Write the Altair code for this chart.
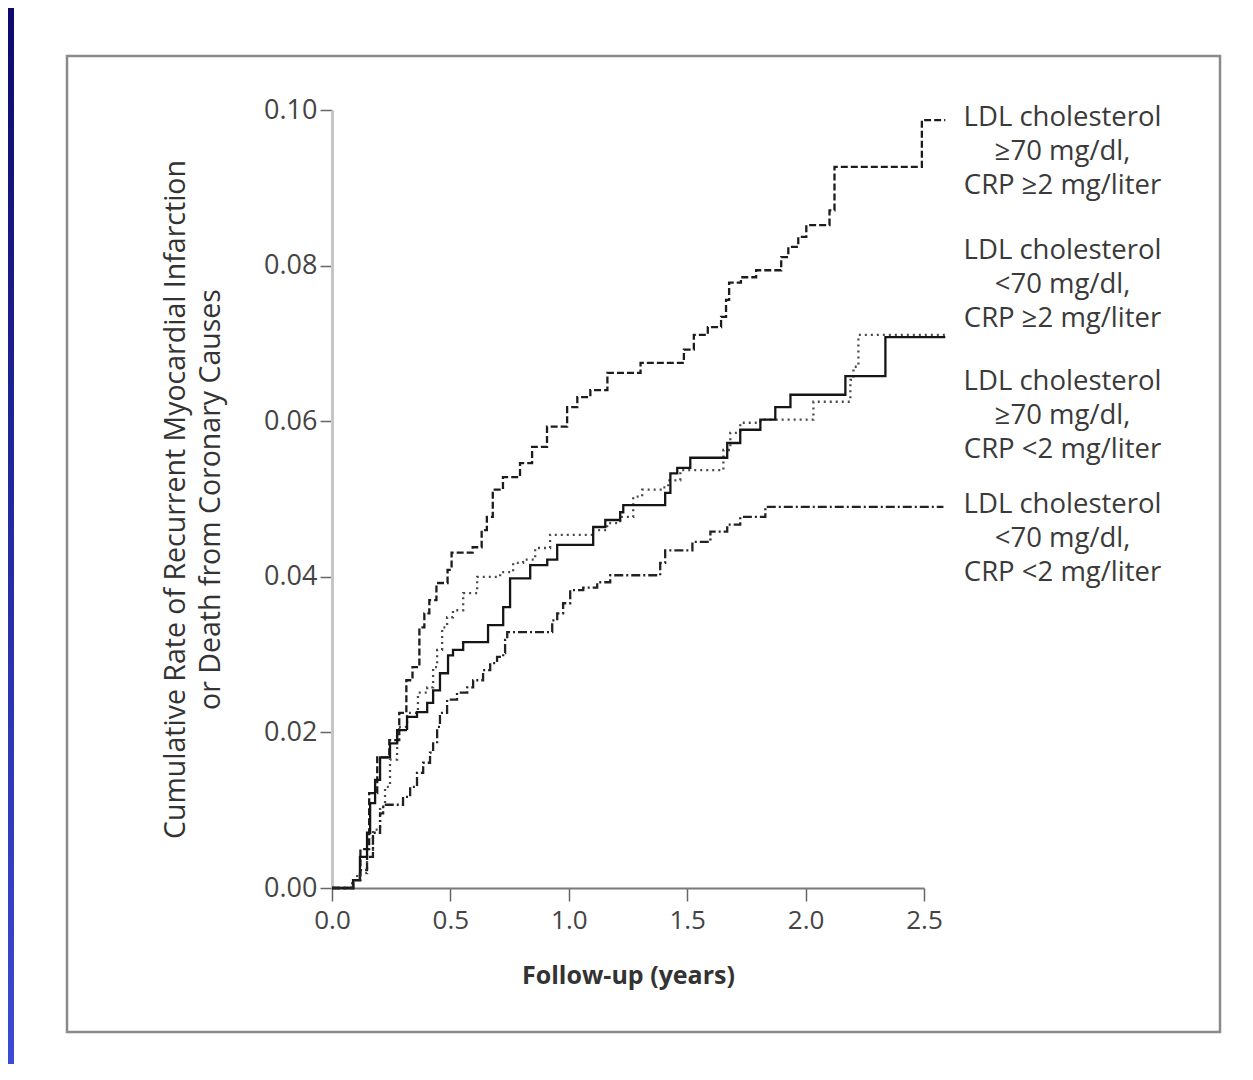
import altair as alt
import pandas as pd

# ---------------- data ----------------
series_names = ["LDL>=70, CRP>=2", "LDL<70, CRP>=2", "LDL>=70, CRP<2", "LDL<70, CRP<2"]

# dashed: LDL >=70 mg/dl, CRP >=2 mg/liter
a_t = [0, 0.09, 0.12, 0.157, 0.191, 0.242, 0.284, 0.314, 0.340, 0.369, 0.390, 0.411, 0.441,
       0.488, 0.505, 0.594, 0.632, 0.654, 0.679, 0.722, 0.794, 0.845, 0.908, 0.993, 1.036,
       1.091, 1.163, 1.303, 1.486, 1.528, 1.587, 1.643, 1.664, 1.677, 1.727, 1.791, 1.897,
       1.927, 1.969, 2.003, 2.101, 2.122, 2.491, 2.59]
a_v = [0, 0.001, 0.005, 0.0122, 0.0168, 0.019, 0.0225, 0.0267, 0.0284, 0.0335, 0.0353, 0.037,
       0.0392, 0.0409, 0.0431, 0.0438, 0.046, 0.0477, 0.0512, 0.0528, 0.0546, 0.0567, 0.0593,
       0.0618, 0.0631, 0.064, 0.0662, 0.0675, 0.0692, 0.0711, 0.0721, 0.0734, 0.0756, 0.0778,
       0.0785, 0.0794, 0.0811, 0.0824, 0.0837, 0.0852, 0.0871, 0.0927, 0.0987, 0.0987]

# dotted: LDL <70 mg/dl, CRP >=2 mg/liter
b_t = [0, 0.085, 0.106, 0.148, 0.173, 0.203, 0.224, 0.245, 0.275, 0.317, 0.363, 0.402, 0.427,
       0.444, 0.465, 0.486, 0.511, 0.554, 0.613, 0.710, 0.765, 0.807, 0.858, 0.921, 1.103,
       1.162, 1.217, 1.272, 1.310, 1.399, 1.420, 1.471, 1.653, 1.682, 1.724, 1.809, 2.033,
       2.189, 2.202, 2.223, 2.59]
b_v = [0, 0.001, 0.0019, 0.0049, 0.0075, 0.0105, 0.0130, 0.0165, 0.0207, 0.0225, 0.0251,
       0.0258, 0.0284, 0.0306, 0.0335, 0.0348, 0.0357, 0.0379, 0.0400, 0.0406, 0.0418, 0.0422,
       0.0437, 0.0454, 0.0460, 0.0469, 0.0477, 0.0503, 0.0512, 0.0515, 0.0524, 0.0537, 0.0563,
       0.0585, 0.0598, 0.0602, 0.0625, 0.0653, 0.0670, 0.0711, 0.0711]

# solid: LDL >=70 mg/dl, CRP <2 mg/liter
c_t = [0, 0.089, 0.118, 0.148, 0.161, 0.182, 0.203, 0.245, 0.275, 0.317, 0.359, 0.402, 0.427,
       0.456, 0.490, 0.511, 0.554, 0.659, 0.723, 0.752, 0.837, 0.909, 0.951, 1.103, 1.154,
       1.217, 1.230, 1.407, 1.429, 1.458, 1.513, 1.669, 1.724, 1.809, 1.872, 1.936, 2.168,
       2.337, 2.59]
c_v = [0, 0.001, 0.004, 0.0071, 0.0109, 0.0139, 0.0168, 0.0186, 0.0203, 0.0220, 0.0226,
       0.0238, 0.0254, 0.0276, 0.0299, 0.0306, 0.0316, 0.0338, 0.0361, 0.0398, 0.0415, 0.0422,
       0.0441, 0.0464, 0.0473, 0.0483, 0.0492, 0.0508, 0.0533, 0.0540, 0.0553, 0.0572, 0.0589,
       0.0602, 0.0618, 0.0634, 0.0658, 0.0708, 0.0708]

# dash-dot: LDL <70 mg/dl, CRP <2 mg/liter
d_t = [0, 0.089, 0.118, 0.148, 0.173, 0.203, 0.216, 0.300, 0.330, 0.359, 0.385, 0.414, 0.427,
       0.444, 0.456, 0.486, 0.528, 0.571, 0.596, 0.638, 0.668, 0.697, 0.723, 0.731, 0.740,
       0.930, 0.951, 0.976, 1.006, 1.061, 1.120, 1.175, 1.386, 1.407, 1.522, 1.598, 1.669,
       1.724, 1.830, 2.582]
d_v = [0, 0.001, 0.0023, 0.004, 0.0071, 0.0096, 0.0107, 0.0117, 0.013, 0.0148, 0.0161, 0.0174,
       0.0186, 0.0207, 0.0225, 0.0242, 0.0251, 0.0258, 0.0267, 0.028, 0.0289, 0.0297, 0.0302,
       0.0319, 0.0329, 0.0344, 0.0353, 0.0366, 0.0383, 0.0386, 0.0393, 0.0402, 0.0418, 0.0434,
       0.0445, 0.0458, 0.0467, 0.0477, 0.049, 0.049]

label_texts = [
    "LDL cholesterol\n\u226570 mg/dl,\nCRP \u22652 mg/liter",
    "LDL cholesterol\n<70 mg/dl,\nCRP \u22652 mg/liter",
    "LDL cholesterol\n\u226570 mg/dl,\nCRP <2 mg/liter",
    "LDL cholesterol\n<70 mg/dl,\nCRP <2 mg/liter",
]
label_t = [3.085, 3.085, 3.085, 3.085]
label_v = [0.0990, 0.0819, 0.0650, 0.0492]

x_ticks = [0.0, 0.5, 1.0, 1.5, 2.0, 2.5]
y_ticks = [0.00, 0.02, 0.04, 0.06, 0.08, 0.10]

# ---------------- build ----------------
rows = []
for name, ts, vs in zip(series_names, [a_t, b_t, c_t, d_t], [a_v, b_v, c_v, d_v]):
    for t, v in zip(ts, vs):
        rows.append({"series": name, "t": t, "v": v})
df = pd.DataFrame(rows)
lab_df = pd.DataFrame({"t": label_t, "v": label_v, "text": label_texts})
deco = pd.DataFrame({"k": [0]})

FONT = "Open Sans"

x_enc = alt.X(
    "t:Q",
    scale=alt.Scale(domain=[0, 2.5], nice=False, zero=False),
    axis=alt.Axis(
        values=x_ticks, format=".1f", title="Follow-up (years)", grid=False, labelFlush=False,
        domainColor="#7a7a7a", domainWidth=2, tickColor="#666666", tickWidth=1.5, tickSize=13,
        labelFont=FONT, labelFontSize=26, labelColor="#444444", labelPadding=6,
        titleFont=FONT, titleFontSize=25, titleFontWeight="bold", titleColor="#333333",
        titlePadding=30,
    ),
)
y_enc = alt.Y(
    "v:Q",
    scale=alt.Scale(domain=[0, 0.1], nice=False),
    axis=alt.Axis(
        values=y_ticks, format=".2f", grid=False, labelFlush=False,
        title=["Cumulative Rate of Recurrent Myocardial Infarction", "or Death from Coronary Causes"],
        domainColor="#c6c6c6", domainWidth=3, tickColor="#666666", tickWidth=1.5, tickSize=12,
        labelFont=FONT, labelFontSize=27, labelColor="#444444", labelPadding=3,
        titleFont=FONT, titleFontSize=28.5, titleFontWeight="normal", titleColor="#333333",
        titlePadding=38, titleLineHeight=35,
    ),
)

lines = alt.Chart(df).mark_line(interpolate="step-after", strokeWidth=2.3).encode(
    x=x_enc,
    y=y_enc,
    strokeDash=alt.StrokeDash(
        "series:N",
        scale=alt.Scale(domain=series_names, range=[[7, 3], [2, 4], [1, 0], [9, 3, 2, 3]]),
        legend=None,
    ),
    color=alt.Color(
        "series:N",
        scale=alt.Scale(domain=series_names, range=["#1c1c1c", "#4a4a4a", "#151515", "#222222"]),
        legend=None,
    ),
    detail="series:N",
)

labels = alt.Chart(lab_df).mark_text(
    align="center", baseline="middle", lineBreak="\n", lineHeight=34,
    font=FONT, fontSize=27.5, color="#3a3a3a",
).encode(x="t:Q", y="v:Q", text="text:N")

frame = alt.Chart(deco).mark_rect(fillOpacity=0, stroke="#8a8a8a", strokeWidth=2.5).encode(
    x=alt.value(-265), x2=alt.value(888), y=alt.value(-54), y2=alt.value(922)
)

strip = alt.Chart(deco).mark_rect(
    fill=alt.Gradient(
        gradient="linear",
        stops=[alt.GradientStop(color="#0d0a6c", offset=0),
               alt.GradientStop(color="#3c4bd4", offset=1)],
        x1=0, x2=0, y1=0, y2=1,
    )
).encode(x=alt.value(-324), x2=alt.value(-318), y=alt.value(-102), y2=alt.value(954))

chart = alt.layer(frame, strip, lines, labels).properties(
    width=592,
    height=778,
    padding={"left": 324, "top": 102, "right": 321, "bottom": 176},
    autosize=alt.AutoSizeParams(type="none"),
    background="white",
).configure_view(strokeOpacity=0)

chart.save("out.html", embed_options={"renderer": "svg", "actions": False})
